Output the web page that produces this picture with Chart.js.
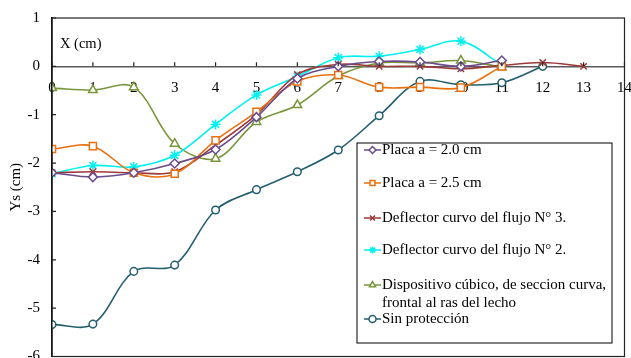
<!DOCTYPE html>
<html>
<head>
<meta charset="utf-8">
<script src="https://cdn.jsdelivr.net/npm/chart.js@4"></script>
<style>
  html, body { margin: 0; padding: 0; background: #fff; overflow: hidden; }
  #wrap { width: 631px; height: 358px; position: relative; overflow: hidden; }
</style>
</head>
<body>
<div id="wrap"><canvas id="chart" width="631" height="363"></canvas></div>
<script>
// x positions (cm) and measured Ys (cm) for each test
const xCm = [0, 1, 2, 3, 4, 5, 6, 7, 8, 9, 10, 11, 12, 13];
const xTicks = [0, 1, 2, 3, 4, 5, 6, 7, 8, 9, 10, 11, 12, 13, 14];
const yTicks = [1, 0, -1, -2, -3, -4, -5, -6];

const placa20 = [-2.2, -2.29, -2.2, -2.01, -1.72, -1.05, -0.25, 0.0, 0.1, 0.09, 0.0, 0.12];
const placa25 = [-1.71, -1.65, -2.2, -2.22, -1.53, -0.94, -0.31, -0.18, -0.43, -0.43, -0.44, 0.0];
const deflector3 = [-2.2, -2.18, -2.2, -2.18, -1.63, -1.0, -0.17, 0.04, 0.0, 0.0, -0.05, 0.02, 0.08, 0.0];
const deflector2 = [-2.22, -2.05, -2.08, -1.84, -1.2, -0.59, -0.21, 0.18, 0.21, 0.35, 0.52, 0.03];
const dispositivo = [-0.45, -0.49, -0.43, -1.6, -1.91, -1.15, -0.8, -0.2, 0.07, 0.07, 0.12, -0.02];
const sinProteccion = [-5.34, -5.33, -4.24, -4.11, -2.97, -2.55, -2.18, -1.73, -1.02, -0.31, -0.38, -0.34, 0.0];

const labels = [
    'Placa a = 2.0 cm',
    'Placa a = 2.5 cm',
    'Deflector curvo del flujo N° 3.',
    'Deflector curvo del flujo N° 2.',
    ['Dispositivo cúbico, de seccion curva,', 'frontal al ras del lecho'],
    'Sin protección'
];

const FONT = 'Liberation Serif, Times New Roman, serif';
const toPoints = values => values.map((y, i) => ({ x: xCm[i], y }));

function series(label, values, color, pointStyle, radius) {
    return {
        label, data: toPoints(values),
        borderColor: color, backgroundColor: '#fff',
        borderWidth: 1.6, tension: 0.35,
        pointStyle, pointRadius: radius, pointBorderWidth: 1.5,
        pointBorderColor: color, pointBackgroundColor: '#fff'
    };
}

// legend box, axis tick marks, frame and the "X (cm)" note
const extras = {
    id: 'extras',
    afterDraw(chart) {
        const ctx = chart.ctx;
        const { left, right, top, bottom } = chart.chartArea;
        const xs = chart.scales.x, ys = chart.scales.y;
        ctx.save();
        ctx.strokeStyle = '#222';
        ctx.lineWidth = 1.2;
        ctx.strokeRect(left, top, right - left, bottom - top);
        // tick marks pointing into the plot
        ctx.beginPath();
        ys.ticks.forEach(t => {
            const y = ys.getPixelForValue(t.value);
            ctx.moveTo(left, y); ctx.lineTo(left + 4, y);
        });
        const y0 = ys.getPixelForValue(0);
        xs.ticks.forEach(t => {
            const x = xs.getPixelForValue(t.value);
            ctx.moveTo(x, y0); ctx.lineTo(x, y0 - 4);
        });
        ctx.stroke();

        ctx.fillStyle = '#000';
        ctx.font = '14.5px ' + FONT;
        ctx.textBaseline = 'middle';
        ctx.fillText('X (cm)', 60, 44);

        // legend
        const box = { x: 357, y: 143, w: 255, h: 200 };
        ctx.fillStyle = '#fff';
        ctx.fillRect(box.x, box.y, box.w, box.h);
        ctx.strokeStyle = '#000';
        ctx.lineWidth = 1;
        ctx.strokeRect(box.x, box.y, box.w, box.h);
        const rows = [150, 183, 218, 250, 285, 319];
        ctx.font = '15px ' + FONT;
        chart.data.datasets.forEach((ds, i) => {
            const y = rows[i];
            ctx.strokeStyle = ds.borderColor;
            ctx.lineWidth = 1.5;
            ctx.beginPath();
            ctx.moveTo(364, y); ctx.lineTo(381, y);
            ctx.stroke();
            ctx.fillStyle = '#fff';
            Chart.helpers.drawPoint(ctx, { pointStyle: ds.pointStyle, radius: 3.5, borderWidth: 1.2 }, 372.5, y);
            ctx.fillStyle = '#000';
            const lines = Array.isArray(ds.label) ? ds.label : [ds.label];
            lines.forEach((line, k) => ctx.fillText(line, 382, y + k * 18));
        });
        ctx.restore();
    }
};

new Chart(document.getElementById('chart'), {
    type: 'line',
    data: {
        datasets: [
            series(labels[0], placa20, '#6a4c8c', 'rectRot', 4.5),
            series(labels[1], placa25, '#e8700f', 'rect', 5),
            series(labels[2], deflector3, '#9c3a38', 'crossRot', 4.5),
            series(labels[3], deflector2, '#00f0f0', 'star', 5),
            series(labels[4], dispositivo, '#7a963c', 'triangle', 5),
            series(labels[5], sinProteccion, '#255e6e', 'circle', 3.8)
        ]
    },
    options: {
        responsive: false,
        animation: false,
        devicePixelRatio: 1,
        layout: { padding: { top: 18, right: 6, bottom: 3, left: 0 } },
        plugins: { legend: { display: false }, tooltip: { enabled: false } },
        scales: {
            x: {
                type: 'linear', position: { y: 0 }, min: 0, max: 14,
                afterBuildTicks: s => { s.ticks = xTicks.map(value => ({ value })); },
                afterFit: s => { s.height = 0; s.paddingLeft = 0; s.paddingRight = 0; },
                grid: { display: false, drawTicks: false },
                border: { display: true, color: '#5a5a5a', width: 1.5 },
                ticks: { autoSkip: false, maxRotation: 0, padding: 13, color: '#000', font: { family: FONT, size: 15 } }
            },
            y: {
                type: 'linear', min: -6, max: 1,
                afterBuildTicks: s => { s.ticks = yTicks.map(value => ({ value })); },
                afterFit: s => { s.width = 52; s.paddingTop = 0; s.paddingBottom = 0; },
                grid: { display: false, drawTicks: false },
                border: { display: true, color: '#000', width: 1.5 },
                title: { display: true, text: 'Ys (cm)', color: '#000', padding: { top: 7, bottom: 0 }, font: { family: FONT, size: 15 } },
                ticks: { padding: 12, color: '#000', font: { family: FONT, size: 15 } }
            }
        }
    },
    plugins: [extras]
});
</script>
</body>
</html>
